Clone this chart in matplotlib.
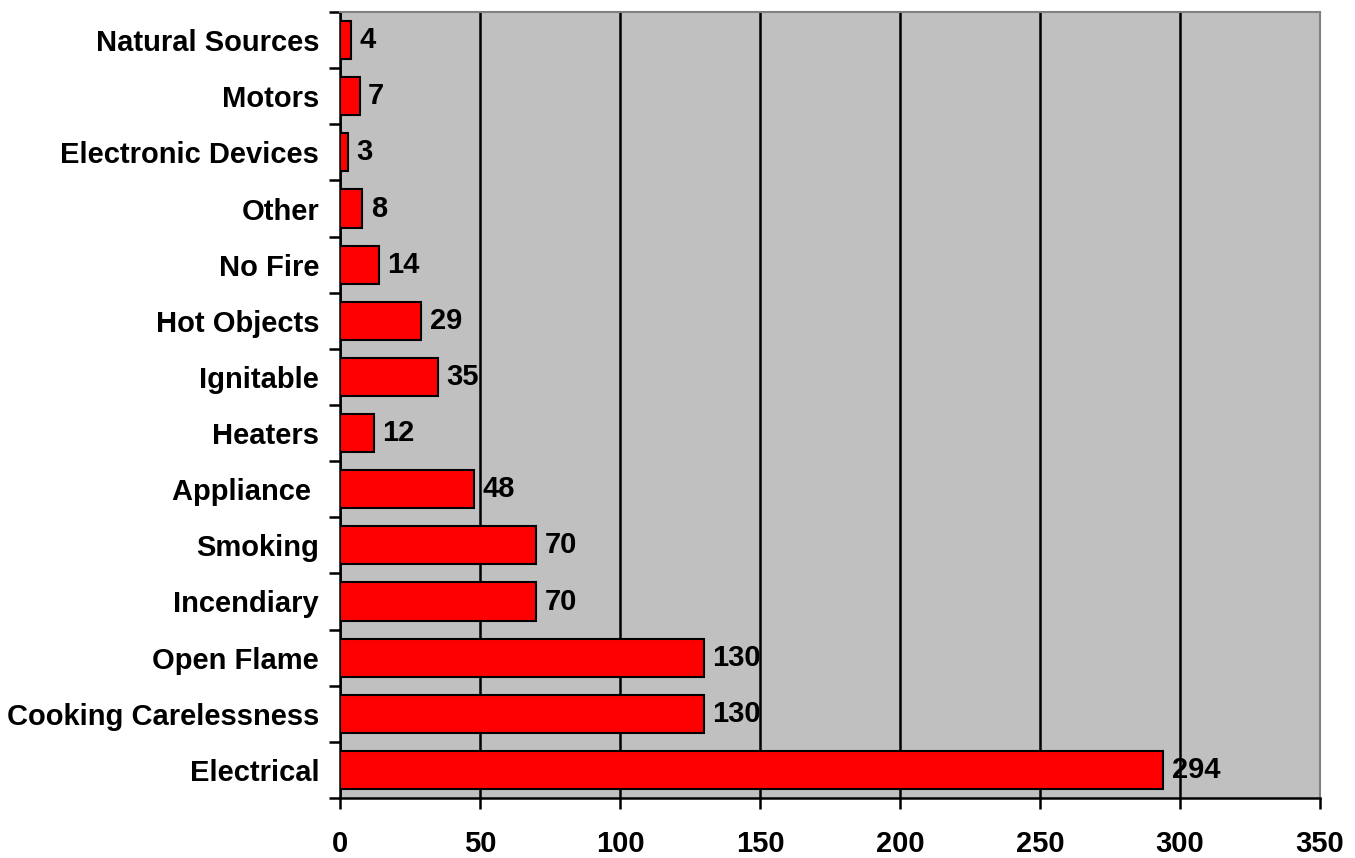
import matplotlib
matplotlib.use("Agg")
import matplotlib.pyplot as plt
import numpy as np

categories = ["Electrical", "Cooking Carelessness", "Open Flame", "Incendiary", "Smoking",
              "Appliance ", "Heaters", "Ignitable", "Hot Objects", "No Fire", "Other",
              "Electronic Devices", "Motors", "Natural Sources"]
values = [294, 130, 130, 70, 70, 48, 12, 35, 29, 14, 8, 3, 7, 4]
xticks = [0, 50, 100, 150, 200, 250, 300, 350]

plt.rcParams['font.family'] = ['Liberation Sans', 'DejaVu Sans']
plt.rcParams['font.weight'] = 'bold'
FS = 21

fig = plt.figure(figsize=(13.55, 8.58), dpi=100)
ax = fig.add_axes([340/1355, 1-798/858, (1320-340)/1355, (798-12)/858])
ax.set_facecolor('#c0c0c0')

y = np.arange(len(categories))
ax.barh(y, values, height=0.68, color='#ff0000', edgecolor='black', linewidth=1.5, zorder=3)
for yi, v in zip(y, values):
    ax.annotate(str(v), (v, yi), xytext=(6, 0), textcoords='offset points',
                va='center', ha='left', fontsize=FS, fontweight='bold', zorder=4)

ax.set_xlim(0, 350)
ax.set_ylim(-0.5, len(categories) - 0.5)
ax.set_xticks(xticks)
ax.set_xticklabels([str(t) for t in xticks], fontsize=FS, fontweight='bold')
ax.xaxis.grid(True, color='black', linewidth=1.8, zorder=1)
ax.set_axisbelow(True)

ax.set_yticks(np.arange(len(categories) + 1) - 0.5)
ax.set_yticklabels([])
ax.set_yticks(y, minor=True)
ax.set_yticklabels(categories, minor=True, fontsize=FS, fontweight='bold')
ax.tick_params(axis='y', which='minor', length=0, pad=15)
ax.tick_params(axis='y', which='major', direction='out', length=8, width=1.8)
ax.tick_params(axis='x', direction='out', length=8, width=1.8, pad=15)

for s in ['left', 'bottom']:
    ax.spines[s].set_linewidth(1.8)
    ax.spines[s].set_color('black')
for s in ['top', 'right']:
    ax.spines[s].set_linewidth(1.5)
    ax.spines[s].set_color('#808080')

fig.savefig('out.png', dpi=100)
